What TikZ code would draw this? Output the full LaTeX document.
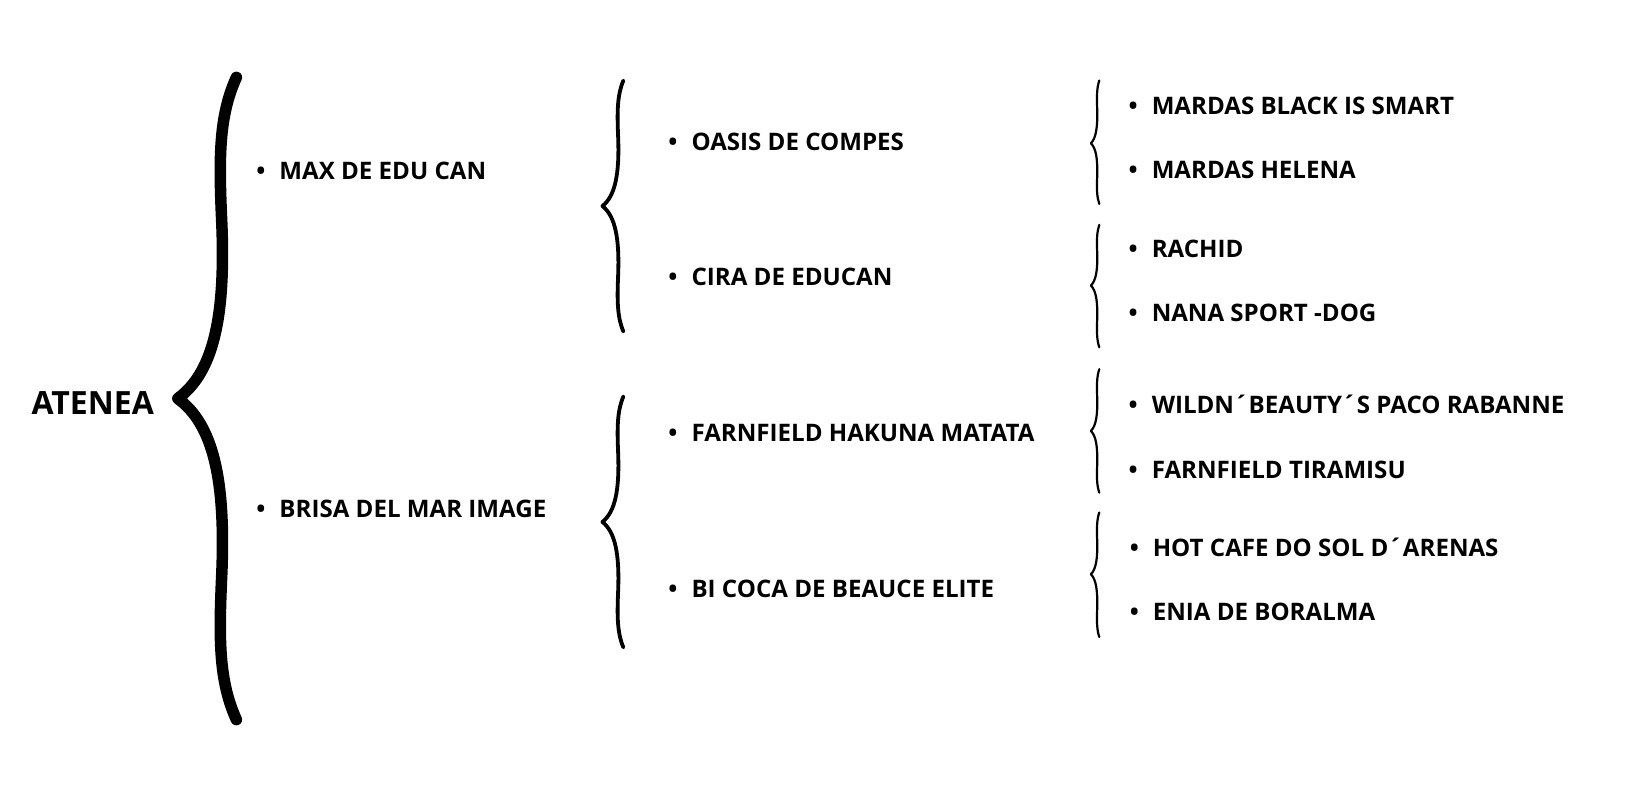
\documentclass[tikz,border=0pt]{standalone}
\usepackage{fontspec}
\setmainfont{Open Sans}
\usetikzlibrary{positioning}

\newcommand{\itm}[1]{\llap{\textbullet\hspace{14pt}}#1}
\newcommand{\drawbrace}[6]{%
    \pgfmathsetmacro{\brW}{#2-#3}
    \pgfmathsetmacro{\brA}{#5-#4}
    \pgfmathsetmacro{\brB}{#6-#5}
    \draw[line width=#1, line cap=round, line join=round]
        (#2,#4) .. controls ({#2-0.3*\brW},{#4+0.12*\brA}) and ({#2-0.3*\brW},{#4+0.25*\brA}) .. ({#2-0.25*\brW},{#4+0.45*\brA})
        .. controls ({#2-0.18*\brW},{#4+0.75*\brA}) and ({#2-0.4*\brW},{#5-0.08*\brA}) .. (#3,#5)
        .. controls ({#2-0.4*\brW},{#5+0.08*\brB}) and ({#2-0.18*\brW},{#6-0.75*\brB}) .. ({#2-0.25*\brW},{#6-0.45*\brB})
        .. controls ({#2-0.3*\brW},{#6-0.25*\brB}) and ({#2-0.3*\brW},{#6-0.12*\brB}) .. (#2,#6);
}
\tikzset{
    rootitem/.style={anchor=west, inner sep=0pt, text height=22.8pt, text depth=0pt, font=\bfseries\fontsize{32}{36}\selectfont},
    item/.style={anchor=west, inner sep=0pt, text height=17.2pt, text depth=0pt, font=\bfseries\fontsize{24.1}{28}\selectfont}
}

\begin{document}
\begin{tikzpicture}[x=1.0459pt, y=-1.0459pt]
        \useasboundingbox (0,0) rectangle (1568,768.7);

        \node[rootitem] (atenea) at (30,385) {ATENEA};

        \node[item] (max) at (267,163) {\itm{MAX DE EDU CAN}};
        \node[item] (brisa) at (267,487) {\itm{BRISA DEL MAR IMAGE}};

        \node[item] (oasis) at (661,136) {\itm{OASIS DE COMPES}};
        \node[item] (cira) at (661,265) {\itm{CIRA DE EDUCAN}};
        \node[item] (hakuna) at (661,414) {\itm{FARNFIELD HAKUNA MATATA}};
        \node[item] (bicoca) at (661,563) {\itm{BI COCA DE BEAUCE ELITE}};

        \node[item] (black) at (1101,101) {\itm{MARDAS BLACK IS SMART}};
        \node[item] (helena) at (1101,162) {\itm{MARDAS HELENA}};
        \node[item] (rachid) at (1101,238) {\itm{RACHID}};
        \node[item] (nana) at (1101,299) {\itm{NANA SPORT -DOG}};
        \node[item] (wildn) at (1101,387) {\itm{WILDN´BEAUTY´S PACO RABANNE}};
        \node[item] (tiramisu) at (1101,449) {\itm{FARNFIELD TIRAMISU}};
        \node[item] (hotcafe) at (1102,524) {\itm{HOT CAFE DO SOL D´ARENAS}};
        \node[item] (enia) at (1102,585) {\itm{ENIA DE BORALMA}};

        \drawbrace{11.5pt}{226}{170}{74}{381}{688}

        \drawbrace{3.8pt}{596}{576}{77}{197}{317}
        \drawbrace{3.8pt}{596}{576}{379}{499}{619}

        \drawbrace{2.2pt}{1051}{1043}{77}{137}{195}
        \drawbrace{2.2pt}{1051}{1043}{215}{273}{332}
        \drawbrace{2.2pt}{1051}{1043}{353}{412}{471}
        \drawbrace{2.2pt}{1051}{1043}{490}{549}{609}
    \end{tikzpicture}
\end{document}
